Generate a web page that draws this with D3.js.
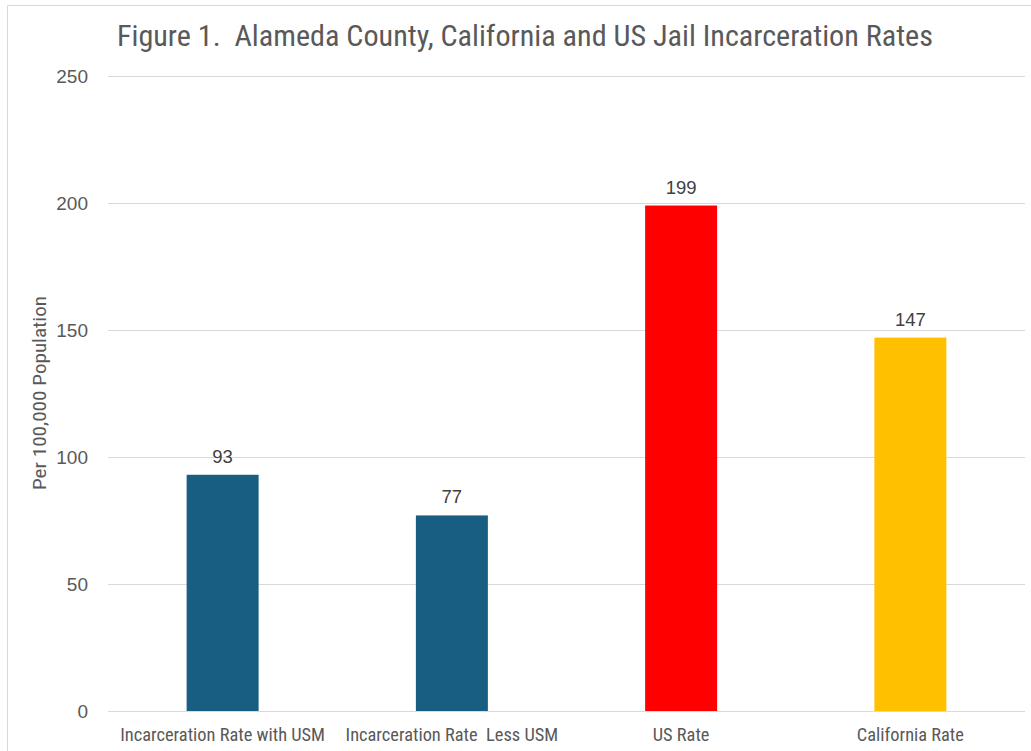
<!DOCTYPE html>
<html>
<head>
<meta charset="utf-8">
<script src="https://cdn.jsdelivr.net/npm/d3@7"></script>
<style>
  body { margin: 0; background: #fff; }
  svg { display: block; }
  .narrow { font-family: "Liberation Sans Narrow", "Roboto Condensed", "Arial Narrow", sans-serif; }
  .reg { font-family: "Liberation Sans", Arial, sans-serif; }
</style>
</head>
<body>
<div id="chart"></div>
<script>
var categories = ["Incarceration Rate with USM", "Incarceration Rate  Less USM", "US Rate", "California Rate"];
var values = [93, 77, 199, 147];
var barColors = ["#175E82", "#175E82", "#FF0000", "#FFC000"];
var yTicks = [0, 50, 100, 150, 200, 250];

var width = 1031, height = 751;
var margin = {left: 108, right: 1025, top: 76, bottom: 711};

var svg = d3.select("#chart").append("svg")
    .attr("width", width)
    .attr("height", height);

// chart frame (only top and left edges visible)
svg.append("path")
    .attr("d", "M7.5,751 L7.5,5.5 L1031,5.5")
    .attr("fill", "none")
    .attr("stroke", "#D9D9D9")
    .attr("stroke-width", 1);

var x = d3.scaleBand()
    .domain(categories)
    .range([margin.left, margin.right])
    .paddingInner(0.686)
    .paddingOuter(0.343);

var y = d3.scaleLinear()
    .domain([0, 250])
    .range([margin.bottom, margin.top]);

// gridlines
svg.append("g")
    .selectAll("line")
    .data(yTicks)
    .enter().append("line")
    .attr("x1", margin.left)
    .attr("x2", margin.right)
    .attr("y1", d => Math.round(y(d)) + 0.5)
    .attr("y2", d => Math.round(y(d)) + 0.5)
    .attr("stroke", "#D9D9D9")
    .attr("stroke-width", 1);

// y axis labels
var yAxis = svg.append("g")
    .attr("transform", "translate(" + (margin.left - 20) + ",0)")
    .call(d3.axisLeft(y).tickValues(yTicks).tickSize(0).tickPadding(0));
yAxis.select(".domain").remove();
yAxis.selectAll("text")
    .attr("class", "reg")
    .attr("fill", "#595959")
    .style("font-size", "19px");

// bars
svg.append("g")
    .selectAll("rect")
    .data(values)
    .enter().append("rect")
    .attr("x", (d, i) => x(categories[i]))
    .attr("width", x.bandwidth())
    .attr("y", d => y(d))
    .attr("height", d => y(0) - y(d))
    .attr("fill", (d, i) => barColors[i]);

// data labels
svg.append("g")
    .selectAll("text")
    .data(values)
    .enter().append("text")
    .attr("class", "reg")
    .attr("x", (d, i) => x(categories[i]) + x.bandwidth() / 2)
    .attr("y", d => y(d) - 12)
    .attr("text-anchor", "middle")
    .attr("fill", "#404040")
    .style("font-size", "18.5px")
    .text(d => d);

// x axis labels
var xAxis = svg.append("g")
    .attr("transform", "translate(0," + margin.bottom + ")")
    .call(d3.axisBottom(x).tickSize(0).tickPadding(30));
xAxis.select(".domain").remove();
xAxis.selectAll("text")
    .attr("class", "narrow")
    .attr("fill", "#595959")
    .style("font-size", "18.4px")
    .style("white-space", "pre")
    .attr("dy", 0);

// title
svg.append("text")
    .attr("class", "narrow")
    .attr("x", 525)
    .attr("y", 46)
    .attr("text-anchor", "middle")
    .attr("fill", "#595959")
    .style("font-size", "30px")
    .style("white-space", "pre")
    .attr("textLength", 816)
    .attr("lengthAdjust", "spacingAndGlyphs")
    .text("Figure 1.  Alameda County, California and US Jail Incarceration Rates");

// y axis title
svg.append("text")
    .attr("class", "narrow")
    .attr("transform", "translate(46,393) rotate(-90)")
    .attr("text-anchor", "middle")
    .attr("fill", "#595959")
    .style("font-size", "19px")
    .attr("textLength", 194)
    .attr("lengthAdjust", "spacingAndGlyphs")
    .text("Per 100,000 Population");
</script>
</body>
</html>
